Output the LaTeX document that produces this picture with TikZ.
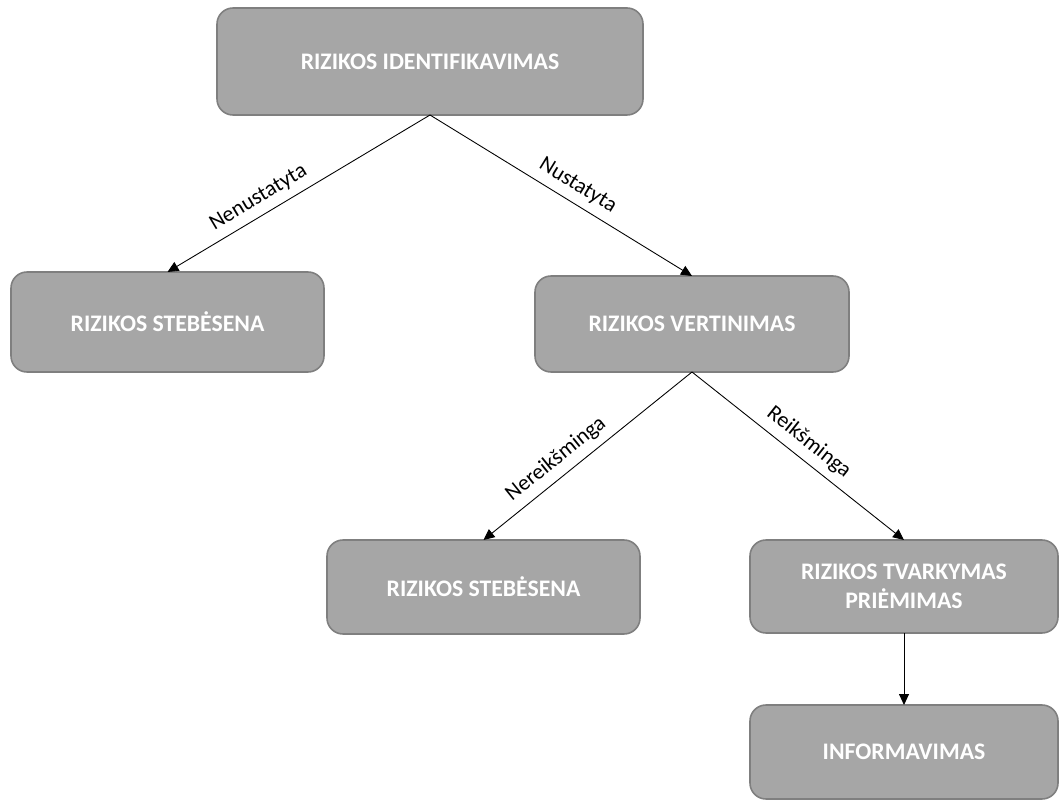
\documentclass[tikz,border=0pt]{standalone}
\usepackage{fontspec}
\setmainfont{Carlito}
\usepackage{xcolor}
\usetikzlibrary{arrows.meta}

\definecolor{boxfill}{HTML}{A6A6A6}
\definecolor{boxline}{HTML}{7F7F7F}

\begin{document}
\begin{tikzpicture}[
    box/.style={draw=boxline, line width=0.9pt, fill=boxfill, rounded corners=0.32cm,
        text=white, font=\fontsize{13.5}{16.5}\selectfont\bfseries, align=center,
        inner sep=0pt, outer sep=0pt},
    arr/.style={-{Triangle[length=0.22cm,width=0.2cm]}, line width=0.5pt},
    lbl/.style={sloped, above=1pt, font=\fontsize{12.5}{15}\selectfont}]
    \useasboundingbox (0,0) rectangle (21.18,-16);

    \node[box, minimum width=8.52cm, minimum height=2.14cm] (ident) at (8.60,-1.23) {RIZIKOS IDENTIFIKAVIMAS};

    \node[box, minimum width=6.26cm, minimum height=2.0cm] (stebA) at (3.35,-6.44) {RIZIKOS STEBĖSENA};
    \node[box, minimum width=6.28cm, minimum height=1.92cm] (vert) at (13.84,-6.48) {RIZIKOS VERTINIMAS};

    \node[box, minimum width=6.26cm, minimum height=1.88cm] (stebB) at (9.67,-11.74) {RIZIKOS STEBĖSENA};
    \node[box, minimum width=6.16cm, minimum height=1.86cm] (tvark) at (18.08,-11.73) {RIZIKOS TVARKYMAS\\PRIĖMIMAS};

    \node[box, minimum width=6.16cm, minimum height=1.88cm] (inform) at (18.08,-15.04) {INFORMAVIMAS};

    \draw[arr] (ident.south) -- node[lbl, pos=0.62] {Nenustatyta} (stebA.north);
    \draw[arr] (ident.south) -- node[lbl, pos=0.53] {Nustatyta} (vert.north);

    \draw[arr] (vert.south) -- node[lbl, pos=0.6] {Nereikšminga} (stebB.north);
    \draw[arr] (vert.south) -- node[lbl, pos=0.5] {Reikšminga} (tvark.north);

    \draw[arr] (tvark.south) -- (inform.north);
\end{tikzpicture}
\end{document}
